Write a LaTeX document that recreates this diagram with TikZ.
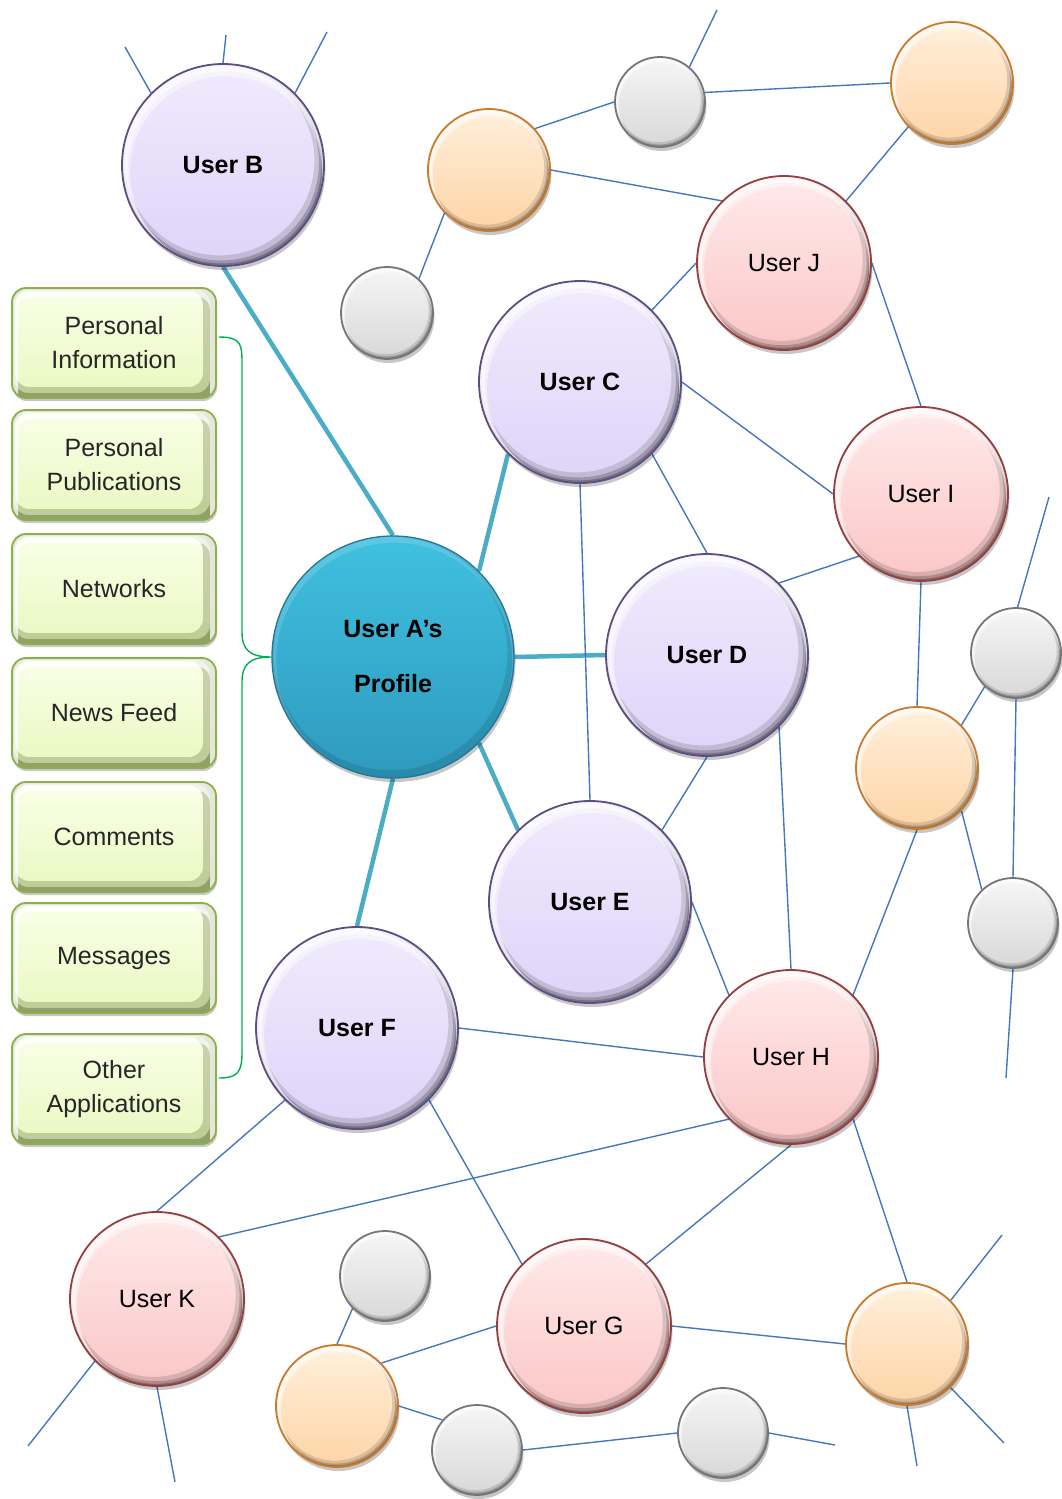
\documentclass[tikz,border=0pt]{standalone}
\usepackage{fontspec}
\setmainfont{Liberation Sans}
\usetikzlibrary{shadows,calc,backgrounds}

% ---- palette -------------------------------------------------------------
\definecolor{linkblue}{RGB}{70,118,192}
\definecolor{hubline}{RGB}{75,172,198}
\definecolor{bracegreen}{RGB}{0,176,80}
\definecolor{boxtop}{RGB}{250,255,232}
\definecolor{boxbot}{RGB}{232,248,192}
\definecolor{boxedge}{RGB}{140,176,70}
\definecolor{boxshadow}{RGB}{92,108,50}

\definecolor{pTop}{RGB}{240,235,253}\definecolor{pBot}{RGB}{222,212,248}\definecolor{pEdge}{RGB}{92,78,130}
\definecolor{rTop}{RGB}{255,234,234}\definecolor{rBot}{RGB}{251,198,198}\definecolor{rEdge}{RGB}{150,62,62}
\definecolor{oTop}{RGB}{255,240,220}\definecolor{oBot}{RGB}{254,212,166}\definecolor{oEdge}{RGB}{205,122,40}
\definecolor{gTop}{RGB}{246,246,246}\definecolor{gBot}{RGB}{216,216,216}\definecolor{gEdge}{RGB}{118,118,118}
\definecolor{tTop}{RGB}{64,192,224}\definecolor{tBot}{RGB}{46,154,190}\definecolor{tEdge}{RGB}{34,118,152}

\newcommand{\bevelring}[5]{% colour, opacity, radius, inner offset, inner radius factor
  \fill[#1, opacity=#2, even odd rule]
    (path picture bounding box.center) circle ({#3})
    ($(path picture bounding box.center)+#4$) circle ({#5*#3});}

\tikzset{
  % glossy bevelled disc: dark rim lower right, bright rim upper left
  ballbase/.style={circle, inner sep=0pt, minimum size=2*#1, line width=1.8pt, shade,
    drop shadow={shadow xshift=1.5pt, shadow yshift=-4pt, opacity=0.22, fill=black},
    path picture={
      \bevelring{black}{0.13}{#1}{({-0.035*#1},{-0.045*#1})}{0.94}
      \bevelring{black}{0.20}{#1}{({-0.02*#1},{-0.025*#1})}{0.97}
      \bevelring{black}{0.24}{#1}{({-0.01*#1},{-0.01*#1})}{0.985}
      \bevelring{white}{0.45}{#1}{({0.03*#1},{0.07*#1})}{0.95}
      \bevelring{white}{0.55}{#1}{({0.02*#1},{0.04*#1})}{0.965}}},
  pball/.style={ballbase=#1, top color=pTop, bottom color=pBot, draw=pEdge,
    font=\bfseries\fontsize{25}{30}\selectfont},
  rball/.style={ballbase=#1, top color=rTop, bottom color=rBot, draw=rEdge,
    font=\fontsize{25}{30}\selectfont},
  oball/.style={ballbase=#1, top color=oTop, bottom color=oBot, draw=oEdge},
  gball/.style={ballbase=#1, top color=gTop, bottom color=gBot, draw=gEdge},
  hubball/.style={circle, inner sep=0pt, minimum size=2*#1, line width=1.3pt, shade,
    top color=tTop, bottom color=tBot, draw=tEdge, align=center,
    drop shadow={shadow xshift=1.5pt, shadow yshift=-4pt, opacity=0.22, fill=black},
    path picture={
      \bevelring{black}{0.10}{#1}{({-0.02*#1},{-0.03*#1})}{0.965}
      \bevelring{white}{0.15}{#1}{({0.01*#1},{0.03*#1})}{0.975}},
    font=\bfseries\fontsize{25}{55}\selectfont},
  infobox/.style={rectangle, rounded corners=14pt, minimum width=204, minimum height=110,
    align=center, text=black!85, font=\fontsize{25}{34}\selectfont,
    draw=boxedge, line width=1.8pt, top color=boxtop, bottom color=boxbot,
    drop shadow={shadow xshift=1pt, shadow yshift=-3pt, opacity=0.22, fill=black},
    path picture={
      \fill[boxshadow, opacity=0.30, even odd rule, rounded corners=14pt]
        (path picture bounding box.north west) rectangle (path picture bounding box.south east)
        ($(path picture bounding box.north west)+(3,3)$) rectangle ($(path picture bounding box.south east)+(-13,-11)$);
      \fill[boxshadow, opacity=0.45, even odd rule, rounded corners=14pt]
        (path picture bounding box.north west) rectangle (path picture bounding box.south east)
        ($(path picture bounding box.north west)+(2,2)$) rectangle ($(path picture bounding box.south east)+(-6,-5)$);
      \fill[white, opacity=0.75, even odd rule, rounded corners=12pt]
        (path picture bounding box.north west) rectangle (path picture bounding box.south east)
        ($(path picture bounding box.north west)+(6,9)$) rectangle ($(path picture bounding box.south east)+(-6,20)$);
    }},
  thinlink/.style={draw=linkblue, line width=1.4pt},
  hublink/.style={draw=hubline, line width=4.5pt},
  bracket/.style={draw=bracegreen, line width=1.4pt}
}

\begin{document}
\begin{tikzpicture}[x=1pt, y=-1pt]
\useasboundingbox (0,0) rectangle (1062,1499);

% ---- feature boxes ---------------------------------------------------------
\node[infobox] (pinfo) at (114,343) {Personal\\Information};
\node[infobox] (ppub)  at (114,465) {Personal\\Publications};
\node[infobox] (net)   at (114,589) {Networks};
\node[infobox] (feed)  at (114,713) {News Feed};
\node[infobox] (comm)  at (114,837) {Comments};
\node[infobox] (msg)   at (114,958) {Messages};
\node[infobox] (oapp)  at (114,1089) {Other\\Applications};

% ---- central profile -------------------------------------------------------
\node[hubball=121] (A) at (393,657) {User A’s\\Profile};

% ---- direct contacts -------------------------------------------------------
\node[pball=101] (B) at (223,165) {User B};
\node[pball=101] (C) at (580,382) {User C};
\node[pball=101] (D) at (707,655) {User D};
\node[pball=101] (E) at (590,902) {User E};
\node[pball=101] (F) at (357,1028) {User F};

% ---- second-level contacts -------------------------------------------------
\node[rball=87] (J) at (784,263) {User J};
\node[rball=87] (I) at (921,494) {User I};
\node[rball=87] (H) at (791,1057) {User H};
\node[rball=87] (K) at (157,1299) {User K};
\node[rball=87] (G) at (584,1326) {User G};

% ---- further network members -----------------------------------------------
\node[oball=61] (o1) at (489,170) {};
\node[oball=61] (o2) at (952,83) {};
\node[oball=61] (o3) at (917,768) {};
\node[oball=61] (o4) at (907,1344) {};
\node[oball=61] (o5) at (337,1406) {};

\node[gball=45] (g1) at (660,102) {};
\node[gball=46] (g2) at (387,313) {};
\node[gball=45] (g3) at (1016,653) {};
\node[gball=45] (g4) at (1013,923) {};
\node[gball=45] (g5) at (385,1276) {};
\node[gball=45] (g6) at (477,1450) {};
\node[gball=45] (g7) at (723,1433) {};

% ---- open ends of links leaving the view -----------------------------------
\coordinate (bf1) at (125,47);
\coordinate (bf2) at (226,35);
\coordinate (bf3) at (327,32);
\coordinate (g1f) at (717,10);
\coordinate (g3f) at (1049,497);
\coordinate (g4f) at (1006,1078);
\coordinate (o4f1) at (1002,1235);
\coordinate (o4f2) at (1004,1443);
\coordinate (o4f3) at (917,1466);
\coordinate (kf1) at (28,1446);
\coordinate (kf2) at (175,1482);
\coordinate (g7f) at (835,1445);

\begin{scope}[on background layer]
  % profile to its direct contacts
  \draw[hublink] (A.90) -- (B.270);
  \draw[hublink] (A.45) -- (C.225);
  \draw[hublink] (A.0) -- (D.180);
  \draw[hublink] (A.-45) -- (E.135);
  \draw[hublink] (A.270) -- (F.90);

  % wider network
  \draw[thinlink] (B.135) -- (bf1);
  \draw[thinlink] (B.90) -- (bf2);
  \draw[thinlink] (B.45) -- (bf3);
  \draw[thinlink] (o1.42) -- (g1.180);
  \draw[thinlink] (o1.0) -- (J.135);
  \draw[thinlink] (o1.224) -- (g2.47);
  \draw[thinlink] (g1.50) -- (g1f);
  \draw[thinlink] (g1.12) -- (o2.180);
  \draw[thinlink] (o2.225) -- (J.45);
  \draw[thinlink] (J.180) -- (C.45);
  \draw[thinlink] (J.0) -- (I.90);
  \draw[thinlink] (C.0) -- (I.180);
  \draw[thinlink] (C.-45) -- (D.90);
  \draw[thinlink] (C.270) -- (E.90);
  \draw[thinlink] (I.225) -- (D.45);
  \draw[thinlink] (I.270) -- (o3.90);
  \draw[thinlink] (D.270) -- (E.45);
  \draw[thinlink] (D.-45) -- (H.90);
  \draw[thinlink] (E.0) -- (H.135);
  \draw[thinlink] (o3.44) -- (g3.227);
  \draw[thinlink] (g3.88) -- (g3f);
  \draw[thinlink] (g3.270) -- (g4.90);
  \draw[thinlink] (o3.-44) -- (g4.133);
  \draw[thinlink] (g4.270) -- (g4f);
  \draw[thinlink] (o3.270) -- (H.45);
  \draw[thinlink] (F.0) -- (H.180);
  \draw[thinlink] (F.225) -- (K.90);
  \draw[thinlink] (F.-45) -- (G.135);
  \draw[thinlink] (H.225) -- (K.45);
  \draw[thinlink] (H.270) -- (G.45);
  \draw[thinlink] (H.-45) -- (o4.90);
  \draw[thinlink] (o4.45) -- (o4f1);
  \draw[thinlink] (o4.-45) -- (o4f2);
  \draw[thinlink] (o4.270) -- (o4f3);
  \draw[thinlink] (G.0) -- (o4.180);
  \draw[thinlink] (K.225) -- (kf1);
  \draw[thinlink] (K.270) -- (kf2);
  \draw[thinlink] (g5.225) -- (o5.90);
  \draw[thinlink] (o5.44) -- (G.180);
  \draw[thinlink] (o5.0) -- (g6.139);
  \draw[thinlink] (g6.0) -- (g7.180);
  \draw[thinlink] (g7.0) -- (g7f);

  % bracket gathering the profile features
  \draw[bracket] ($(pinfo.east)+(2,-6)$) .. controls (242,337) and (242,345) .. (242,365)
    -- (242,632) .. controls (242,650) and (250,657) .. (A.west)
    .. controls (250,657) and (242,664) .. (242,682)
    -- (242,1052) .. controls (242,1072) and (238,1078) .. ($(oapp.east)+(2,-11)$);
\end{scope}
\end{tikzpicture}
\end{document}
